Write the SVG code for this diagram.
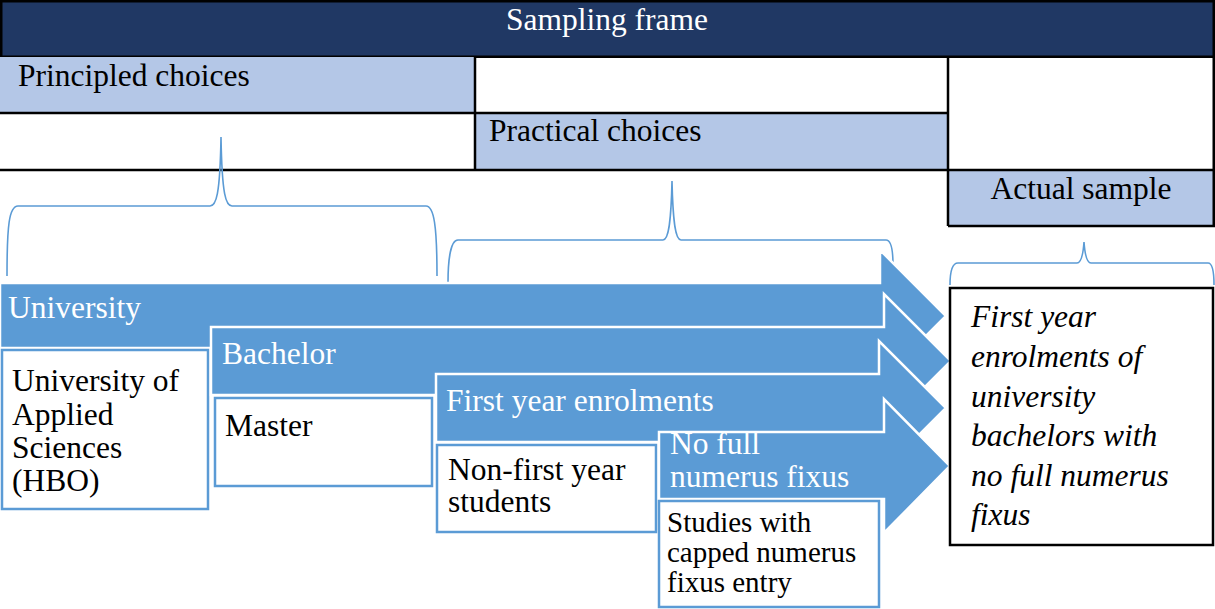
<svg xmlns="http://www.w3.org/2000/svg" width="1215" height="609" viewBox="0 0 1215 609">
<style>
.t{font-family:"Liberation Serif","Times New Roman",serif;font-size:31.5px;fill:#000}
.w{fill:#fff}
.i{font-style:italic}
.s{font-size:29px}
.cell{fill:#B4C7E7}
.ln{stroke:#000;stroke-width:2.5;fill:none}
.arr{fill:#5B9BD5;stroke:#fff;stroke-width:2.5;stroke-linejoin:miter}
.box{fill:#fff;stroke:#5B9BD5;stroke-width:2.5}
.brace{fill:none;stroke:#5B9BD5;stroke-width:1.6}
</style>
<rect width="1215" height="609" fill="#fff"/>
<g id="table">
  <rect x="1.25" y="1.25" width="1212.5" height="55.5" fill="#203864" stroke="#000" stroke-width="2.5"/>
  <text class="t w" x="607" y="30" text-anchor="middle">Sampling frame</text>
  <rect class="cell" x="0" y="57" width="475" height="56"/>
  <rect class="cell" x="475" y="113" width="473" height="57"/>
  <rect class="cell" x="948" y="170" width="266" height="56"/>
  <path class="ln" d="M0 113H948M0 170H1215M948 226H1215M475 57V170M948 57V226M1213.75 57V226"/>
  <text class="t" x="18" y="86">Principled choices</text>
  <text class="t" x="489" y="141">Practical choices</text>
  <text class="t" x="1081" y="199" text-anchor="middle">Actual sample</text>
</g>
<g id="connectors">
  <path class="brace" d="M7 276C7 226 9 206 18 206L210 206C216 206 220 196 221 137C222 196 226 206 232 206L426 206C434 206 437 226 437 276"/>
  <path class="brace" d="M448 283C448 258 451 240 458 240L663 240C668 240 671 226 672 181C673 226 676 240 681 240L886 240C891 240 893 250 893 265"/>
  <path class="brace" d="M950 285C950 272 952 263 958 263L1077 263C1081 263 1083 256 1084 242C1085 256 1087 263 1091 263L1208 263C1212 263 1214 272 1214 285"/>
</g>
<g id="arrow-university">
  <path class="arr" d="M0 283H880V250L946 316L880 382V348H0Z"/>
  <text class="t w" x="8" y="318">University</text>
</g>
<g id="box-hbo">
  <rect class="box" x="2" y="350" width="206" height="159"/>
  <text class="t" x="12" y="391">University of</text>
  <text class="t" x="12" y="425">Applied</text>
  <text class="t" x="12" y="458">Sciences</text>
  <text class="t" x="12" y="491">(HBO)</text>
</g>
<g id="arrow-bachelor">
  <path class="arr" d="M211 327H884V294L951 361L884 428V395H211Z"/>
  <text class="t w" x="222" y="364">Bachelor</text>
</g>
<g id="box-master">
  <rect class="box" x="215" y="398" width="217" height="88"/>
  <text class="t" x="225" y="436">Master</text>
</g>
<g id="arrow-first-year">
  <path class="arr" d="M436 374H879V341L946 408L879 475V442H436Z"/>
  <text class="t w" x="446" y="411">First year enrolments</text>
</g>
<g id="box-non-first">
  <rect class="box" x="437" y="445" width="219" height="87"/>
  <text class="t" x="448" y="480">Non-first year</text>
  <text class="t" x="448" y="512">students</text>
</g>
<g id="arrow-no-full">
  <path class="arr" d="M659 432H884V399L950 466L884 533V499H659Z"/>
  <text class="t w" x="670" y="454">No full</text>
  <text class="t w" x="670" y="487">numerus fixus</text>
</g>
<g id="box-capped">
  <rect class="box" x="659" y="501" width="220" height="106"/>
  <text class="t s" x="667" y="532">Studies with</text>
  <text class="t s" x="667" y="562">capped numerus</text>
  <text class="t s" x="667" y="592">fixus entry</text>
</g>
<g id="box-actual">
  <rect x="950" y="288" width="263" height="257" fill="#fff" stroke="#000" stroke-width="2.5"/>
  <text class="t i" x="971" y="327">First year</text>
  <text class="t i" x="971" y="367">enrolments of</text>
  <text class="t i" x="971" y="407">university</text>
  <text class="t i" x="971" y="446">bachelors with</text>
  <text class="t i" x="971" y="486">no full numerus</text>
  <text class="t i" x="971" y="525">fixus</text>
</g>
</svg>
